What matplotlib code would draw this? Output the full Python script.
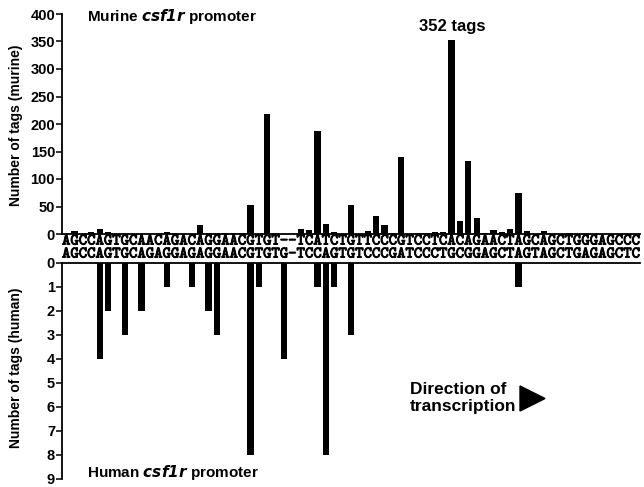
import matplotlib
matplotlib.use("Agg")
import matplotlib.pyplot as plt
from matplotlib.patches import Polygon
from matplotlib.transforms import blended_transform_factory
import matplotlib.patheffects as pe

# ---- data ----
murine_seq = "AGCCAGTGCAACAGACAGGAACGTGT--TCATCTGTTCCCGTCCTCACAGAACTAGCAGCTGGGAGCCC"
human_seq = "AGCCAGTGCAGAGGAGAGGAACGTGTG-TCCAGTGTCCCGATCCCTGCGGAGCTAGTAGCTGAGAGCTC"

murine_pos = [1, 3, 4, 5, 12, 13, 16, 17, 18, 19, 20, 21, 22, 24, 25,
              28, 29, 30, 31, 32, 34, 36, 37, 38, 39, 40, 42, 43, 44, 45,
              46, 47, 48, 49, 50, 51, 52, 53, 54, 55, 57, 60]
murine_tags = [6, 3, 10, 3, 3, 2, 16, 2, 2, 2, 2, 2, 53, 218, 2,
               10, 7, 188, 18, 3, 52, 5, 32, 17, 2, 140, 2, 2, 3, 4,
               352, 24, 133, 30, 2, 8, 3, 9, 74, 5, 5, 1]

human_pos = [4, 5, 7, 9, 12, 15, 17, 18, 22, 23, 26, 30, 31, 32, 34, 54]
human_tags = [4, 2, 3, 2, 1, 1, 2, 3, 8, 1, 4, 1, 8, 1, 3, 1]

murine_yticks = [0, 50, 100, 150, 200, 250, 300, 350, 400]
human_yticks = [0, 1, 2, 3, 4, 5, 6, 7, 8, 9]

W, H = 644, 487
plt.rcParams['font.family'] = ['Liberation Sans', 'DejaVu Sans']
fig = plt.figure(figsize=(W / 100, H / 100), dpi=100)

def fx(px):
    return px / W

def fy(py):
    return (H - py) / H

left, right = 62, 640
ax1 = fig.add_axes([fx(left), fy(234), fx(right) - fx(left), fy(14) - fy(234)])
ax2 = fig.add_axes([fx(left), fy(479), fx(right) - fx(left), fy(263) - fy(479)])

n = len(murine_seq)
for ax in (ax1, ax2):
    ax.set_xlim(-0.5, n - 0.5)
    ax.set_xticks([])
    ax.spines['right'].set_visible(False)
    ax.spines['left'].set_linewidth(1.3)
    ax.tick_params(axis='y', length=4, width=1.1, labelsize=10.5, pad=1)

ax1.bar(murine_pos, murine_tags, width=0.75, color='black')
ax1.set_ylim(0, 400)
ax1.set_yticks(murine_yticks)
ax1.set_yticklabels([str(v) for v in murine_yticks], fontweight='bold', fontsize=10.5)
ax1.spines['top'].set_visible(False)
ax1.spines['bottom'].set_linewidth(1.3)
ax1.set_ylabel("Number of tags (murine)", fontweight='bold', fontsize=10)
ax1.yaxis.set_label_coords(fx(23), fy(125), transform=fig.transFigure)

ax2.bar(human_pos, human_tags, width=0.75, color='black')
ax2.set_ylim(9, 0)
ax2.set_yticks(human_yticks)
ax2.set_yticklabels([str(v) for v in human_yticks], fontweight='bold', fontsize=10.5)
ax2.spines['bottom'].set_visible(False)
ax2.spines['top'].set_linewidth(1.3)
ax2.set_ylabel("Number of tags (human)", fontweight='bold', fontsize=10)
ax2.yaxis.set_label_coords(fx(23), fy(368), transform=fig.transFigure)

# sequences, one character per position
tr = blended_transform_factory(ax1.transData, fig.transFigure)
effects = [pe.withStroke(linewidth=0.7, foreground='black')]
for row_y, seq in ((241.5, murine_seq), (254.5, human_seq)):
    for i, ch in enumerate(seq):
        ax1.text(i, fy(row_y), ch, transform=tr, ha='center', va='center',
                 family='cmtt10', fontsize=11.5, clip_on=False, path_effects=effects)

fig.text(fx(87), fy(17), r"Murine $\bfit{csf1r}$ promoter", fontsize=11, fontweight='bold', va='center', ha='left')
fig.text(fx(452), fy(27), "352 tags", fontsize=12, fontweight='bold', va='center', ha='center')
fig.text(fx(87), fy(472), r"Human $\bfit{csf1r}$ promoter", fontsize=11, fontweight='bold', va='center', ha='left')
fig.text(fx(410), fy(398), "Direction of\ntranscription", fontsize=12.5, fontweight='bold', va='center', ha='left', linespacing=1.1)

tri = Polygon([[fx(520), fy(386)], [fx(520), fy(411)], [fx(545), fy(398.5)]], closed=True,
              transform=fig.transFigure, color='black')
fig.add_artist(tri)

fig.savefig("out.png", dpi=100)
